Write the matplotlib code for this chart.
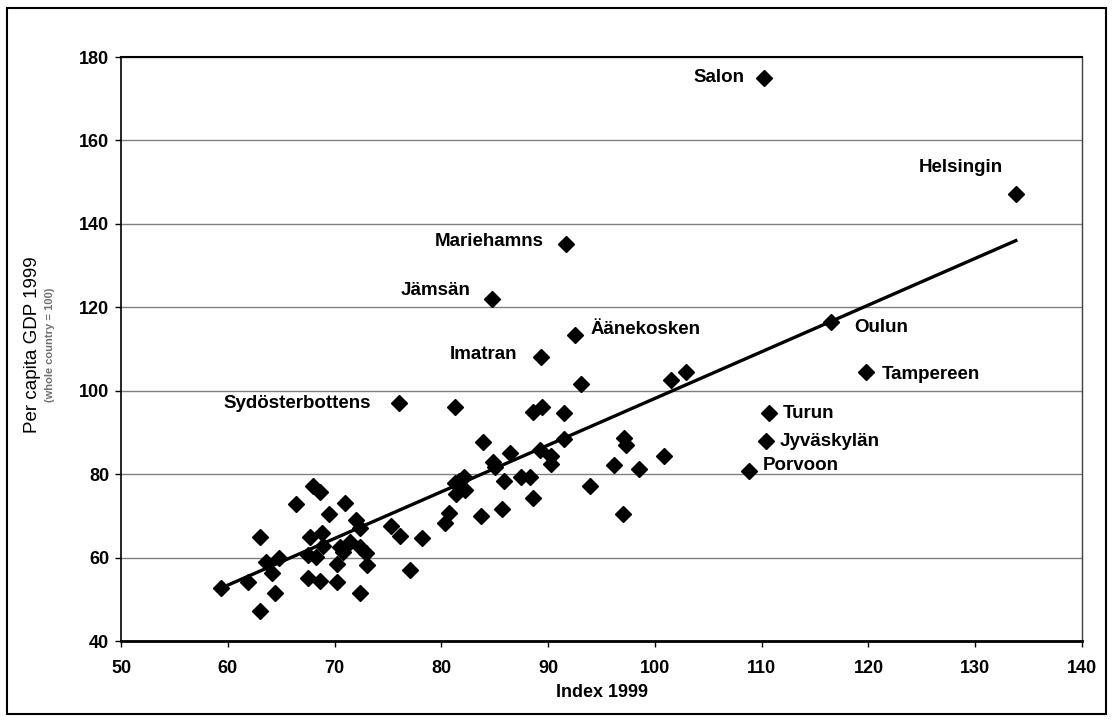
import numpy as np
import matplotlib
matplotlib.use("Agg")
import matplotlib.pyplot as plt
from matplotlib.patches import Rectangle

# unlabelled regions: (index 1999, per capita GDP 1999)
index_1999 = [
    59.4, 61.9, 63.0, 63.0, 63.6, 64.1, 64.4, 64.8, 66.4, 67.5, 67.5, 67.7,
    68.0, 68.6, 68.8, 68.9, 68.3, 68.6, 69.5, 70.2, 70.2, 70.5, 71.0, 70.8,
    71.4, 72.0, 72.4, 72.4, 72.9, 73.0, 72.4, 75.3, 76.1, 77.1, 78.2,
    80.3, 80.7, 81.3, 81.4, 81.3, 82.1, 82.2, 81.7, 83.7, 83.9, 84.8, 85.0,
    85.9, 86.4, 85.7, 87.5, 88.3, 88.6, 88.6, 89.4, 89.2, 90.3, 90.3, 91.5,
    91.5, 93.1, 93.9, 96.2, 97.0, 97.1, 97.3, 98.5, 100.9, 101.5, 102.9,
]
gdp_1999 = [
    52.6, 54.2, 65.0, 47.3, 59.0, 56.2, 51.6, 59.8, 72.8, 60.6, 55.2, 65.0,
    77.1, 75.8, 65.8, 62.8, 60.2, 54.4, 70.4, 58.4, 54.1, 62.6, 73.2, 61.4,
    63.8, 69.0, 67.0, 62.6, 61.0, 58.2, 51.6, 67.6, 65.2, 57.0, 64.6,
    68.4, 70.6, 96.0, 75.2, 77.8, 79.4, 76.2, 78.4, 70.0, 87.8, 83.0, 81.8,
    78.3, 85.1, 71.6, 79.2, 79.4, 74.3, 95.0, 96.2, 85.9, 84.3, 82.4, 94.6,
    88.4, 101.5, 77.2, 82.2, 70.4, 88.6, 87.1, 81.2, 84.4, 102.6, 104.4,
]

# labelled regions
names = ["Salon", "Helsingin", "Mariehamns", "Jämsän", "Äänekosken", "Imatran",
         "Sydösterbottens", "Oulun", "Tampereen", "Turun", "Jyväskylän", "Porvoon"]
names_x = [110.2, 133.8, 91.7, 84.7, 92.5, 89.3, 76.0, 116.5, 119.8, 110.7, 110.4, 108.8]
names_y = [175.0, 147.2, 135.2, 122.0, 113.4, 108.0, 97.0, 116.5, 104.6, 94.6, 87.9, 80.8]

# label placement (offset in points, alignment)
label_pos = {
    "Salon": (-14, 0, "right"),
    "Helsingin": (-9, 19, "right"),
    "Mariehamns": (-16, 2, "right"),
    "Jämsän": (-15, 6, "right"),
    "Äänekosken": (11, 4, "left"),
    "Imatran": (-17, 2, "right"),
    "Sydösterbottens": (-20, 0, "right"),
    "Oulun": (17, -4, "left"),
    "Tampereen": (11, -2, "left"),
    "Turun": (10, 0, "left"),
    "Jyväskylän": (10, 0, "left"),
    "Porvoon": (10, 4, "left"),
}

plt.rcParams["font.family"] = ["Liberation Sans", "DejaVu Sans"]

fig = plt.figure(figsize=(11.13, 7.22), dpi=100)
ax = fig.add_axes([121 / 1113, 1 - 641 / 722, (1082 - 121) / 1113, (641 - 57) / 722])

all_x = np.array(index_1999 + names_x)
all_y = np.array(gdp_1999 + names_y)

ax.plot(all_x, all_y, linestyle="none", marker="D", markersize=7.8,
        color="black", zorder=3)

# linear trend
k, b = np.polyfit(all_x, all_y, 1)
tx = np.array([all_x.min(), all_x.max()])
ax.plot(tx, k * tx + b, color="black", linewidth=2.4, zorder=2)

for n, x, y in zip(names, names_x, names_y):
    dx, dy, ha = label_pos[n]
    ax.annotate(n, (x, y), xytext=(dx, dy), textcoords="offset points",
                ha=ha, va="center", fontsize=13.5, fontweight="bold")

ax.set_xlim(50, 140)
ax.set_ylim(40, 180)
ax.set_xticks(np.arange(50, 141, 10))
ax.set_yticks(np.arange(40, 181, 20))
ax.yaxis.grid(True, color="#808080", linewidth=1.0)
ax.set_axisbelow(True)

ax.tick_params(direction="out", length=4.5, width=1, labelsize=13)
for lab in ax.get_xticklabels() + ax.get_yticklabels():
    lab.set_fontweight("bold")
ax.tick_params(axis="x", pad=9)
ax.tick_params(axis="y", pad=4)

ax.spines["left"].set_linewidth(1.2)
ax.spines["bottom"].set_linewidth(2)
ax.spines["top"].set_linewidth(1.5)
ax.spines["right"].set_color("#404040")
ax.spines["right"].set_linewidth(1)

ax.set_xlabel("Index 1999", fontsize=13, fontweight="bold", labelpad=5)
fig.text(33 / 1113, 1 - 345 / 722, "Per capita GDP 1999", rotation=90,
         ha="center", va="center", fontsize=13.5)
fig.text(50 / 1113, 1 - 345 / 722, "(whole country = 100)", rotation=90,
         ha="center", va="center", fontsize=8, color="#707070", fontweight="bold")

# chart area border
fig.patches.append(Rectangle((7 / 1113, 8 / 722), 1 - 14 / 1113, 1 - 16 / 722,
                             transform=fig.transFigure, fill=False,
                             edgecolor="black", linewidth=1.5))

fig.savefig("out.png", dpi=100)
